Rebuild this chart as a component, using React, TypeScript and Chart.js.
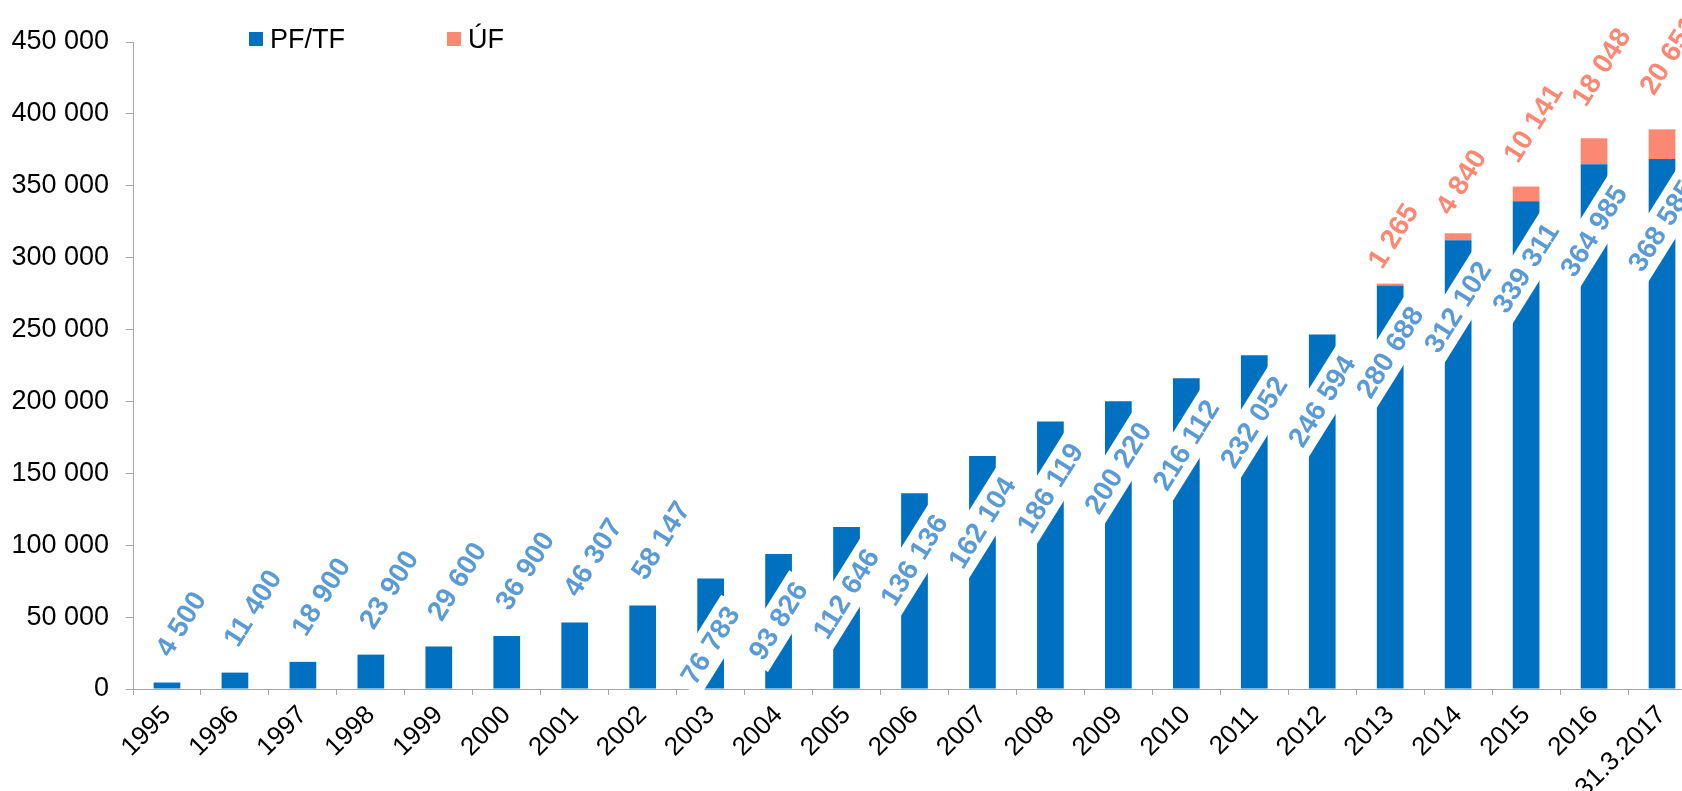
import React, { useEffect, useRef } from "react";
import { Chart, registerables } from "chart.js";

Chart.register(...registerables);

const categories = [
  "1995", "1996", "1997", "1998", "1999", "2000", "2001", "2002", "2003", "2004",
  "2005", "2006", "2007", "2008", "2009", "2010", "2011", "2012", "2013", "2014",
  "2015", "2016", "31.3.2017",
];

const pfTf = [
  4500, 11400, 18900, 23900, 29600, 36900, 46307, 58147, 76783, 93826,
  112646, 136136, 162104, 186119, 200220, 216112, 232052, 246594, 280688, 312102,
  339311, 364985, 368585,
];

const uf = [
  null, null, null, null, null, null, null, null, null, null,
  null, null, null, null, null, null, null, null, 1265, 4840,
  10141, 18048, 20651,
];

const yTicks = [0, 50000, 100000, 150000, 200000, 250000, 300000, 350000, 400000, 450000];

const BLUE = "#0070C0";
const ORANGE = "#FA8872";
const BLUE_LABEL = "#5B9BD5";
const ORANGE_LABEL = "#FA8872";
const AXIS = "#A6A6A6";
const FONT = "'Liberation Sans', Arial, sans-serif";

const fmt = (v: number) => String(Math.round(v)).replace(/\B(?=(\d{3})+(?!\d))/g, " ");

const ANGLE = (-58 * Math.PI) / 180;

const labelPlugin = {
  id: "barLabels",
  afterDatasetsDraw(chart: any) {
    const ctx = chart.ctx;
    ctx.save();
    ctx.font = `bold 28px ${FONT}`;
    const m0 = chart.getDatasetMeta(0);
    m0.data.forEach((bar: any, i: number) => {
      const v = chart.data.datasets[0].data[i];
      if (v == null) return;
      const txt = fmt(v);
      const h = bar.base - bar.y;
      ctx.save();
      if (h < 100) {
        ctx.translate(bar.x + 3, bar.y - 24);
        ctx.rotate(ANGLE);
        ctx.textAlign = "left";
        ctx.textBaseline = "alphabetic";
        ctx.fillStyle = BLUE_LABEL;
        ctx.fillText(txt, 0, 0);
      } else {
        ctx.translate(bar.x, bar.y + 67);
        ctx.rotate(ANGLE);
        const w = ctx.measureText(txt).width;
        ctx.fillStyle = "#ffffff";
        ctx.fillRect(-w / 2 - 6, -18, w + 12, 36);
        ctx.textAlign = "center";
        ctx.textBaseline = "middle";
        ctx.fillStyle = BLUE_LABEL;
        ctx.fillText(txt, 0, 1);
      }
      ctx.restore();
    });
    const m1 = chart.getDatasetMeta(1);
    m1.data.forEach((bar: any, i: number) => {
      const v = chart.data.datasets[1].data[i];
      if (v == null) return;
      const seg = bar.base - bar.y;
      ctx.save();
      ctx.translate(bar.x - 8, bar.y - (12 + 0.7 * seg));
      ctx.rotate(ANGLE);
      ctx.textAlign = "left";
      ctx.textBaseline = "alphabetic";
      ctx.fillStyle = ORANGE_LABEL;
      ctx.fillText(fmt(v), 0, 0);
      ctx.restore();
    });
    ctx.restore();
  },
};

const legendPlugin = {
  id: "customLegend",
  afterDraw(chart: any) {
    const ctx = chart.ctx;
    const items = [
      { x: 249, ds: chart.data.datasets[0] },
      { x: 447, ds: chart.data.datasets[1] },
    ];
    ctx.save();
    ctx.font = `27px ${FONT}`;
    ctx.textAlign = "left";
    ctx.textBaseline = "alphabetic";
    items.forEach((it) => {
      ctx.fillStyle = it.ds.backgroundColor;
      ctx.fillRect(it.x, 32, 14, 14);
      ctx.fillStyle = "#000000";
      ctx.fillText(it.ds.label, it.x + 21, 48);
    });
    ctx.restore();
  },
};

export default function App() {
  const ref = useRef<HTMLCanvasElement>(null);
  useEffect(() => {
    if (!ref.current) return;
    const chart = new Chart(ref.current, {
      type: "bar",
      data: {
        labels: categories,
        datasets: [
          {
            label: "PF/TF",
            data: pfTf,
            backgroundColor: BLUE,
            barPercentage: 0.393,
            categoryPercentage: 1,
          },
          {
            label: "ÚF",
            data: uf as any,
            backgroundColor: ORANGE,
            barPercentage: 0.393,
            categoryPercentage: 1,
          },
        ],
      },
      options: {
        responsive: false,
        animation: false,
        devicePixelRatio: 1,
        layout: { padding: { left: 0, right: 4, top: 42, bottom: 0 } },
        plugins: {
          legend: { display: false },
          tooltip: { enabled: false },
          title: { display: false },
        },
        scales: {
          x: {
            stacked: true,
            offset: true,
            grid: {
              offset: true,
              drawOnChartArea: false,
              drawTicks: true,
              tickLength: 6,
              color: AXIS,
            },
            border: { display: true, color: AXIS, width: 1 },
            ticks: {
              minRotation: 45,
              maxRotation: 45,
              autoSkip: false,
              padding: 5,
              color: "#000000",
              font: { family: FONT, size: 26 },
            },
            afterFit: (scale: any) => {
              scale.height = 102;
            },
          },
          y: {
            stacked: true,
            min: 0,
            max: 450000,
            afterBuildTicks: (scale: any) => {
              scale.ticks = yTicks.map((v) => ({ value: v }));
            },
            grid: {
              drawOnChartArea: false,
              drawTicks: true,
              tickLength: 7,
              color: AXIS,
            },
            border: { display: true, color: AXIS, width: 1 },
            ticks: {
              padding: 17,
              color: "#000000",
              font: { family: FONT, size: 27 },
              callback: (v: any) => fmt(Number(v)),
            },
            afterFit: (scale: any) => {
              scale.width = 133;
            },
          },
        },
      },
      plugins: [labelPlugin, legendPlugin],
    });
    return () => chart.destroy();
  }, []);

  return (
    <div
      style={{
        position: "fixed",
        left: 0,
        top: 0,
        width: 1682,
        height: 791,
        overflow: "hidden",
        background: "#ffffff",
      }}
    >
      <canvas ref={ref} width={1700} height={791} style={{ display: "block" }} />
    </div>
  );
}
